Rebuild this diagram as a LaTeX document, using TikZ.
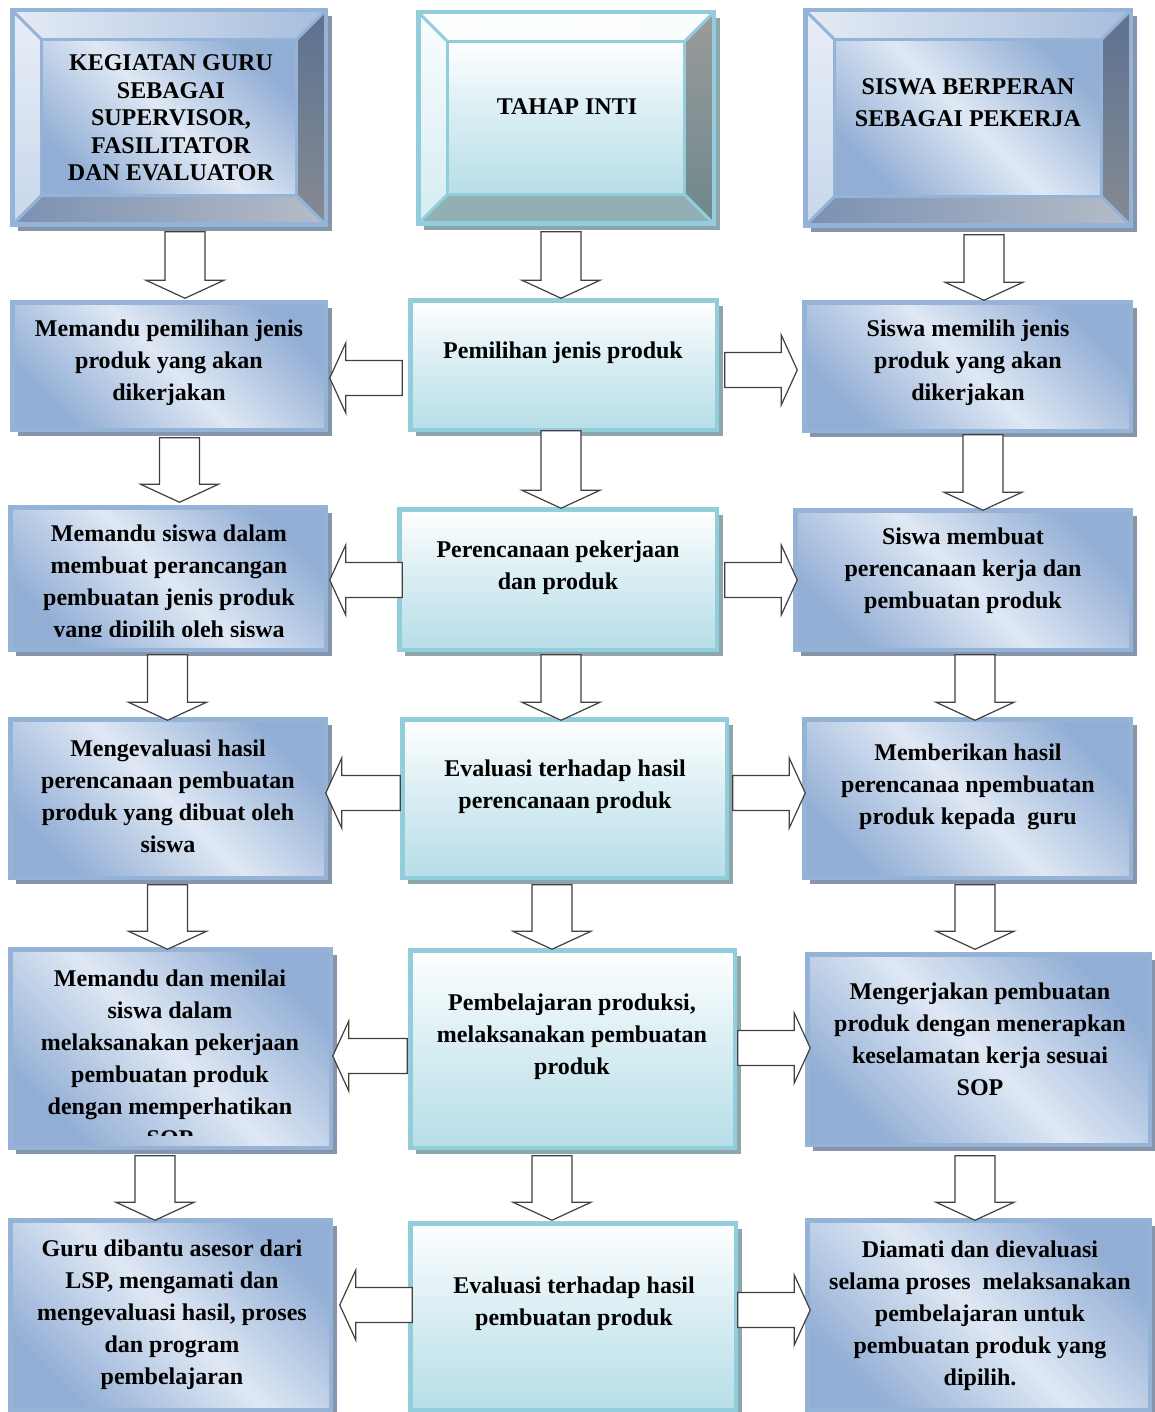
\documentclass[tikz,border=0pt]{standalone}
\usepackage{fontspec}
\setmainfont{Liberation Serif}
\usetikzlibrary{calc,shadows}

\definecolor{blueline}{RGB}{149,179,215}
\definecolor{bluedark}{RGB}{146,174,213}
\definecolor{bluelight}{RGB}{223,232,244}
\definecolor{blueshadow}{RGB}{134,149,172}
\definecolor{aqualine}{RGB}{146,205,220}
\definecolor{aquadark}{RGB}{183,222,232}
\definecolor{aquashadow}{RGB}{141,166,171}
% bevel colours
\definecolor{blueTopA}{RGB}{228,235,245}
\definecolor{blueTopB}{RGB}{166,189,220}
\definecolor{blueLeftA}{RGB}{232,238,247}
\definecolor{blueLeftB}{RGB}{200,215,235}
\definecolor{blueRightA}{RGB}{93,113,145}
\definecolor{blueRightB}{RGB}{134,139,147}
\definecolor{blueBotA}{RGB}{122,145,178}
\definecolor{blueBotB}{RGB}{182,188,200}
\definecolor{aquaTopA}{RGB}{252,254,255}
\definecolor{aquaTopB}{RGB}{250,253,254}
\definecolor{aquaLeftA}{RGB}{250,253,254}
\definecolor{aquaLeftB}{RGB}{212,236,242}
\definecolor{aquaRightA}{RGB}{155,155,155}
\definecolor{aquaRightB}{RGB}{110,135,140}
\definecolor{aquaBotA}{RGB}{147,175,182}
\definecolor{aquaBotB}{RGB}{147,175,182}

\tikzset{
  box/.style={rectangle, line width=2.25pt, outer sep=0pt, inner sep=0pt},
  wh/.style 2 args={minimum width=#1pt, minimum height=#2pt},
  bshadow/.style={drop shadow={shadow xshift=3pt, shadow yshift=-3pt, opacity=1, fill=blueshadow}},
  ashadow/.style={drop shadow={shadow xshift=3pt, shadow yshift=-3pt, opacity=1, fill=aquashadow}},
  blueface/.style={draw=blueline, line width=1.5pt, shading=axis, top color=bluedark,
    bottom color=bluedark, middle color=bluelight, shading angle=-45},
  aquaface/.style={draw=aqualine, line width=1.5pt, top color=white, bottom color=aquadark,
    middle color=aquadark!55!white},
  bluebox/.style={box, blueface, line width=2.25pt, bshadow},
  aquabox/.style={box, aquaface, line width=2.25pt, ashadow},
  bluehead/.style={box, draw=blueline, fill=blueline, bshadow},
  aquahead/.style={box, draw=aqualine, fill=aqualine, ashadow},
  txt/.style={align=center, font=\bfseries\fontsize{12}{16}\selectfont},
  fat/.style n args={3}{draw=black!75, fill=white, line width=0.6pt,
    to path={($(\tikztostart)!#1!90:(\tikztotarget)$)
      -- ($(\tikztotarget)!#3!(\tikztostart)!#1!90:(\tikztotarget)$)
      -- ($(\tikztotarget)!#3!(\tikztostart)!#2!90:(\tikztotarget)$)
      -- (\tikztotarget)
      -- ($(\tikztotarget)!#3!(\tikztostart)!#2!-90:(\tikztotarget)$)
      -- ($(\tikztotarget)!#3!(\tikztostart)!#1!-90:(\tikztotarget)$)
      -- ($(\tikztostart)!#1!-90:(\tikztotarget)$) -- cycle}},
  downarr/.style={fat={10pt}{19.5pt}{9pt}},
  sidearr/.style={fat={8.75pt}{17.5pt}{8pt}},
}

% bevelled frame drawn over a header node
\newcommand{\bevelframe}[2]{%
  \shade[left color=#2TopA, right color=#2TopB] (#1.north west) -- (#1.north east)
    -- ([shift={(-14.5pt,-14.5pt)}]#1.north east) -- ([shift={(14.5pt,-14.5pt)}]#1.north west) -- cycle;
  \shade[top color=#2LeftA, bottom color=#2LeftB] (#1.north west) -- ([shift={(14.5pt,-14.5pt)}]#1.north west)
    -- ([shift={(14.5pt,14.5pt)}]#1.south west) -- (#1.south west) -- cycle;
  \shade[top color=#2RightA, bottom color=#2RightB] (#1.north east) -- ([shift={(-14.5pt,-14.5pt)}]#1.north east)
    -- ([shift={(-14.5pt,14.5pt)}]#1.south east) -- (#1.south east) -- cycle;
  \shade[left color=#2BotA, right color=#2BotB] (#1.south west) -- ([shift={(14.5pt,14.5pt)}]#1.south west)
    -- ([shift={(-14.5pt,14.5pt)}]#1.south east) -- (#1.south east) -- cycle;
  \draw[#2line, line width=1.5pt] (#1.north west) -- ([shift={(14.5pt,-14.5pt)}]#1.north west);
  \draw[#2line, line width=1.5pt] (#1.north east) -- ([shift={(-14.5pt,-14.5pt)}]#1.north east);
  \draw[#2line, line width=1.5pt] (#1.south west) -- ([shift={(14.5pt,14.5pt)}]#1.south west);
  \draw[#2line, line width=1.5pt] (#1.south east) -- ([shift={(-14.5pt,14.5pt)}]#1.south east);
  \draw[#2face] ([shift={(14.5pt,-14.5pt)}]#1.north west) rectangle ([shift={(-14.5pt,14.5pt)}]#1.south east);
  \draw[#2line, line width=2.25pt] (#1.north west) rectangle (#1.south east);
}

\begin{document}
\begin{tikzpicture}[x=0.5pt, y=-0.5pt]
\useasboundingbox (0,0) rectangle (1155,1412);

% headers
\node[bluehead, wh={156.75}{107.25}] (L0) at (169,117.5) {};
\node[aquahead, wh={147.75}{105.75}] (M0) at (566,118) {};
\node[bluehead, wh={162.75}{107.75}] (R0) at (968,118) {};
\bevelframe{L0}{blue}
\bevelframe{M0}{aqua}
\bevelframe{R0}{blue}
\node[txt, font=\bfseries\fontsize{12}{13.7}\selectfont] (tL0) at (171,118) {KEGIATAN GURU\\SEBAGAI\\SUPERVISOR,\\FASILITATOR\\DAN EVALUATOR};
\node[txt] (tM0) at (567,107) {TAHAP INTI};
\node[txt] (tR0) at (968,103) {SISWA BERPERAN\\SEBAGAI PEKERJA};

% boxes
\node[bluebox, wh={156.75}{63.75}] (L1) at (169,366) {};
\node[aquabox, wh={153.25}{64.75}] (M1) at (563.5,365) {};
\node[bluebox, wh={163.25}{64.25}] (R1) at (967.5,366.5) {};

\node[bluebox, wh={157.75}{71.25}] (L2) at (168,578.5) {};
\node[aquabox, wh={158.75}{70.25}] (M2) at (558,579.5) {};
\node[bluebox, wh={167.75}{69.75}] (R2) at (963,580) {};

\node[bluebox, wh={157.75}{79.25}] (L3) at (168,798.5) {};
\node[aquabox, wh={162.25}{79.25}] (M3) at (564.5,798.5) {};
\node[bluebox, wh={163.25}{79.25}] (R3) at (967.5,798.5) {};

\node[bluebox, wh={160.25}{99.25}] (L4) at (170.5,1048.5) {};
\node[aquabox, wh={162.25}{98.75}] (M4) at (572.5,1049) {};
\node[bluebox, wh={171.25}{95.25}] (R4) at (978.5,1049.5) {};

\node[bluebox, wh={160.25}{94.75}] (L5) at (170.5,1315) {};
\node[aquabox, wh={162.75}{93.25}] (M5) at (573,1316.5) {};
\node[bluebox, wh={171.25}{94.75}] (R5) at (978.5,1315) {};

% texts
\node[txt] (tL1) at (169,363) {Memandu pemilihan jenis\\produk yang akan\\dikerjakan};
\node[txt] (tM1) at (563,353) {Pemilihan jenis produk};
\node[txt] (tR1) at (968,363) {Siswa memilih jenis\\produk yang akan\\dikerjakan};

\begin{scope}
\clip (L2.north west) rectangle ([yshift=6.5pt]L2.south east);
\node[txt] (tL2) at (169,583.5) {Memandu siswa dalam\\membuat perancangan\\pembuatan jenis produk\\yang dipilih oleh siswa};
\end{scope}
\node[txt] (tM2) at (558,567.5) {Perencanaan pekerjaan\\dan produk};
\node[txt] (tR2) at (963,571) {Siswa membuat\\perencanaan kerja dan\\pembuatan produk};

\node[txt] (tL3) at (168,796) {Mengevaluasi hasil\\perencanaan pembuatan\\produk yang dibuat oleh\\siswa};
\node[txt] (tM3) at (565,787) {Evaluasi terhadap hasil\\perencanaan produk};
\node[txt] (tR3) at (968,787) {Memberikan hasil\\perencanaa npembuatan\\produk kepada\ \ guru};

\begin{scope}
\clip (L4.north west) rectangle ([yshift=6pt]L4.south east);
\node[txt] (tL4) at (170,1058.5) {Memandu dan menilai\\siswa dalam\\melaksanakan pekerjaan\\pembuatan produk\\dengan memperhatikan\\SOP};
\end{scope}
\node[txt] (tM4) at (572,1036.5) {Pembelajaran produksi,\\melaksanakan pembuatan\\produk};
\node[txt] (tR4) at (980,1039) {Mengerjakan pembuatan\\produk dengan menerapkan\\keselamatan kerja sesuai\\SOP};

\node[txt] (tL5) at (172,1315) {Guru dibantu asesor dari\\LSP, mengamati dan\\mengevaluasi hasil, proses\\dan program\\pembelajaran};
\node[txt] (tM5) at (574,1303.5) {Evaluasi terhadap hasil\\pembuatan produk};
\node[txt] (tR5) at (980,1316) {Diamati dan dievaluasi\\selama proses\ \ melaksanakan\\pembelajaran untuk\\pembuatan produk yang\\dipilih.};

% down arrows
\draw[downarr] ([xshift=8pt,yshift=-3.5pt]L0.south) to ([xshift=8pt,yshift=2pt]L1.north);
\draw[downarr] ([xshift=5.25pt,yshift=-4pt]L1.south) to ([xshift=5.75pt,yshift=2.5pt]L2.north);
\draw[downarr] ([xshift=-0.25pt,yshift=-2.5pt]L2.south) to ([xshift=-0.25pt,yshift=-0.5pt]L3.north);
\draw[downarr] ([xshift=-0.25pt,yshift=-3.5pt]L3.south) to ([xshift=-1.5pt]L4.north);
\draw[downarr] ([xshift=-7.75pt,yshift=-4pt]L4.south) to ([xshift=-7.75pt]L5.north);

\draw[downarr] ([xshift=-2.5pt,yshift=-4pt]M0.south) to ([xshift=-1.25pt,yshift=1pt]M1.north);
\draw[downarr] ([xshift=-1.25pt,yshift=-0.5pt]M1.south) to ([xshift=1.5pt,yshift=0.5pt]M2.north);
\draw[downarr] ([xshift=1.5pt,yshift=-2.5pt]M2.south) to ([xshift=-1.75pt,yshift=-0.5pt]M3.north);
\draw[downarr] ([xshift=-6.25pt,yshift=-3.5pt]M3.south) to ([xshift=-10.25pt,yshift=0.5pt]M4.north);
\draw[downarr] ([xshift=-10.25pt,yshift=-4pt]M4.south) to ([xshift=-10.5pt,yshift=1.5pt]M5.north);

\draw[downarr] ([xshift=8pt,yshift=-4.5pt]R0.south) to ([xshift=8.25pt,yshift=1pt]R1.north);
\draw[downarr] ([xshift=7.75pt,yshift=-2pt]R1.south) to ([xshift=10pt]R2.north);
\draw[downarr] ([xshift=6pt,yshift=-2.5pt]R2.south) to ([xshift=3.75pt,yshift=-0.5pt]R3.north);
\draw[downarr] ([xshift=3.75pt,yshift=-3.5pt]R3.south) to ([xshift=-1.75pt,yshift=2.5pt]R4.north);
\draw[downarr] ([xshift=-1.75pt,yshift=-5.5pt]R4.south) to ([xshift=-1.75pt]R5.north);

% side arrows
\draw[sidearr] ([xshift=-4pt,yshift=-6.5pt]M1.west) to ([xshift=2pt,yshift=-6pt]L1.east);
\draw[sidearr] ([xshift=4pt,yshift=-2.5pt]M1.east) to ([xshift=-3.5pt,yshift=-1.75pt]R1.west);
\draw[sidearr] ([xshift=1.5pt,yshift=-0.25pt]M2.west) to ([xshift=2pt,yshift=-0.75pt]L2.east);
\draw[sidearr] ([xshift=4pt,yshift=-0.25pt]M2.east) to ([xshift=1pt]R2.west);
\draw[sidearr] ([xshift=-1pt,yshift=2.75pt]M3.west) to ([yshift=2.75pt]L3.east);
\draw[sidearr] ([xshift=3pt,yshift=2.75pt]M3.east) to ([xshift=0.5pt,yshift=2.75pt]R3.west);
\draw[sidearr] ([xshift=-1.5pt,yshift=-3.5pt]M4.west) to ([xshift=1pt,yshift=-3.75pt]L4.east);
\draw[sidearr] ([xshift=1.5pt,yshift=0.5pt]M4.east) to ([xshift=1.5pt,yshift=0.75pt]R4.west);
\draw[sidearr] ([xshift=1pt,yshift=5.75pt]M5.west) to ([xshift=4.5pt,yshift=5pt]L5.east);
\draw[sidearr] ([xshift=1pt,yshift=3.25pt]M5.east) to ([xshift=1.5pt,yshift=2.5pt]R5.west);
\end{tikzpicture}
\end{document}
